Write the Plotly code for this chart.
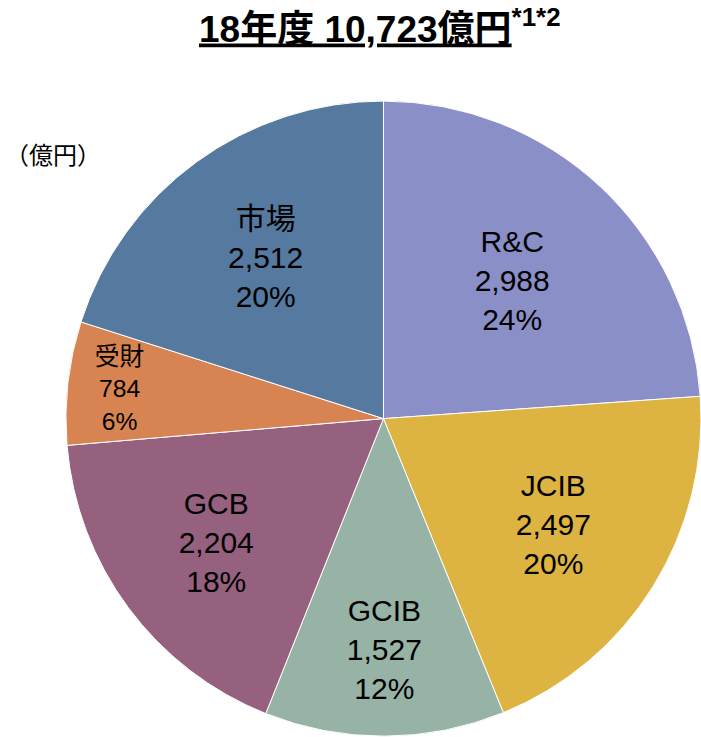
import plotly.graph_objects as go

labels = ["R&C", "JCIB", "GCIB", "GCB", "受財", "市場"]
values = [2988, 2497, 1527, 2204, 784, 2512]
colors = ["#8B8FC8", "#DDB441", "#97B3A6", "#96607F", "#D88452", "#55799F"]

font_family = "Liberation Sans, Arial, Noto Sans CJK JP, sans-serif"

fig = go.Figure(
    go.Pie(
        labels=labels,
        values=values,
        sort=False,
        direction="clockwise",
        rotation=0,
        marker=dict(colors=colors, line=dict(color="white", width=1)),
        texttemplate="%{label}<br>%{value:,}<br>%{percent:.0%}",
        textposition="inside",
        insidetextorientation="horizontal",
        textfont=dict(size=30, color="black", family=font_family),
        domain=dict(x=[0.094, 1.0], y=[0.0, 0.864]),
        showlegend=False,
        hoverinfo="label+value+percent",
    )
)

fig.add_annotation(
    text="<b><u>18年度 10,723億円</u></b><sup><b>*1*2</b></sup>",
    x=0.542, y=0.998, xref="paper", yref="paper",
    showarrow=False, font=dict(size=37, color="black", family=font_family),
)
fig.add_annotation(
    text="（億円）",
    x=0.004, y=0.818, xref="paper", yref="paper", xanchor="left",
    showarrow=False, font=dict(size=24, color="black", family="Noto Sans CJK JP"),
)

fig.update_layout(
    width=701, height=737,
    margin=dict(l=0, r=0, t=0, b=0),
    paper_bgcolor="white",
    font=dict(family=font_family),
)

# drop the default body margin so the figure sits at the page corner
fig.write_html(
    "out.html",
    config={"displayModeBar": False},
    post_script="document.body.style.margin='0';",
)
